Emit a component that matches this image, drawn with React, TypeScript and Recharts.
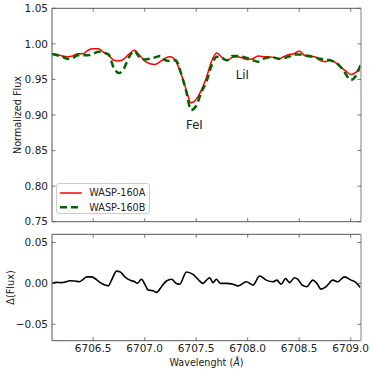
import { LineChart, Line, XAxis, YAxis, Legend, ReferenceDot, Label } from 'recharts';

// wavelength grid (Å) for the two spectra
const wavelength = [
  6706.1, 6706.15, 6706.2, 6706.25, 6706.3, 6706.35, 6706.4, 6706.45, 6706.5, 6706.55,
  6706.6, 6706.65, 6706.7, 6706.75, 6706.8, 6706.85, 6706.9, 6706.95, 6707.0, 6707.05,
  6707.1, 6707.15, 6707.2, 6707.25, 6707.3, 6707.35, 6707.4, 6707.45, 6707.5, 6707.55,
  6707.6, 6707.65, 6707.7, 6707.75, 6707.8, 6707.85, 6707.9, 6707.95, 6708.0, 6708.05,
  6708.1, 6708.15, 6708.2, 6708.25, 6708.3, 6708.35, 6708.4, 6708.45, 6708.5, 6708.55,
  6708.6, 6708.65, 6708.7, 6708.75, 6708.8, 6708.85, 6708.9, 6708.95, 6709.0, 6709.05,
  6709.1,
];

const fluxA = [
  0.986, 0.985, 0.983, 0.982, 0.983, 0.986, 0.986, 0.991, 0.993, 0.993,
  0.988, 0.984, 0.977, 0.976, 0.979, 0.986, 0.991, 0.984, 0.976, 0.972,
  0.971, 0.975, 0.98, 0.982, 0.976, 0.959, 0.937, 0.917, 0.922, 0.935,
  0.953, 0.976, 0.987, 0.981, 0.977, 0.981, 0.982, 0.98, 0.978, 0.979,
  0.983, 0.982, 0.982, 0.981, 0.979, 0.982, 0.985, 0.986, 0.99, 0.984,
  0.982, 0.982, 0.977, 0.975, 0.977, 0.974, 0.968, 0.962, 0.957, 0.96,
  0.97,
];

const fluxB = [
  0.986, 0.984, 0.982, 0.979, 0.98, 0.984, 0.984, 0.984, 0.986, 0.989,
  0.988, 0.985, 0.966, 0.959, 0.966, 0.982, 0.99, 0.981, 0.978, 0.979,
  0.981, 0.983, 0.977, 0.976, 0.977, 0.96, 0.935, 0.907, 0.913, 0.932,
  0.947, 0.97, 0.982, 0.98, 0.977, 0.983, 0.983, 0.982, 0.98, 0.977,
  0.975, 0.979, 0.981, 0.981, 0.979, 0.98, 0.982, 0.985, 0.985, 0.984,
  0.983, 0.981, 0.979, 0.978, 0.977, 0.974, 0.968, 0.958, 0.949, 0.955,
  0.972,
];

// residuals A - B
const diffWavelength = [
  6706.1, 6706.146, 6706.194, 6706.226, 6706.274, 6706.323, 6706.365, 6706.403, 6706.436, 6706.485,
  6706.517, 6706.565, 6706.614, 6706.646, 6706.678, 6706.727, 6706.759, 6706.807, 6706.856, 6706.904,
  6706.927, 6706.969, 6707.001, 6707.033, 6707.082, 6707.115, 6707.163, 6707.211, 6707.26, 6707.308,
  6707.34, 6707.405, 6707.469, 6707.518, 6707.566, 6707.592, 6707.631, 6707.663, 6707.696, 6707.735,
  6707.793, 6707.857, 6707.905, 6707.987, 6708.051, 6708.116, 6708.18, 6708.244, 6708.283, 6708.326,
  6708.367, 6708.406, 6708.455, 6708.487, 6708.529, 6708.574, 6708.632, 6708.671, 6708.713, 6708.762,
  6708.826, 6708.874, 6708.939, 6709.004, 6709.052, 6709.094,
];

const diffFlux = [
  0.0, 0.0013, 0.001, 0.0017, 0.0033, 0.003, 0.002, 0.005, 0.008, 0.008,
  0.006, 0.0013, -0.002, -0.003, 0.004, 0.015, 0.0143, 0.008, 0.004, 0.002,
  0.0, 0.005, -0.001, -0.008, -0.009, -0.011, -0.004, 0.003, 0.005, 0.0,
  -0.001, 0.014, 0.011, 0.005, 0.0, 0.003, 0.007, 0.001, 0.005, 0.0,
  0.0, -0.001, -0.003, 0.002, -0.002, 0.009, 0.004, 0.002, 0.004, -0.001,
  0.006, 0.001, 0.007, 0.005, -0.002, -0.004, 0.004, 0.0, -0.007, -0.004,
  0.004, 0.002, 0.008, 0.004, 0.001, -0.005,
];

const xTicks = [6706.5, 6707.0, 6707.5, 6708.0, 6708.5, 6709.0];
const fluxTicks = [0.75, 0.8, 0.85, 0.9, 0.95, 1.0, 1.05];
const diffTicks = [-0.05, 0, 0.05];

const spectrum = wavelength.map((w, i) => ({ w, a: fluxA[i], b: fluxB[i] }));
const residuals = diffWavelength.map((w, i) => ({ w, d: diffFlux[i] }));

const FONT = '"DejaVu Sans", Verdana, sans-serif';
const SPINE = '#555';
const SPINE_R = '#aaa';
const TICK = 3.5;
const THIN = 0.01; // axes of zero size are not drawn at all
const X_DOMAIN: [number, number] = [6706.1, 6709.1];

const fmtY = (v: number) => (v < 0 ? '\u2212' + Math.abs(v).toFixed(2) : v.toFixed(2));

const bottomTick = (showLabel: boolean) => (p: any) => (
  <g>
    <line x1={p.x} x2={p.x} y1={p.y} y2={p.y - TICK} stroke={SPINE} strokeWidth={0.8} />
    {showLabel && (
      <text x={p.x} y={p.y + 11.5} textAnchor="middle" fontSize={10.5} fontFamily={FONT} fill="#222">
        {Number(p.payload.value).toFixed(1)}
      </text>
    )}
  </g>
);

const topTick = (p: any) => (
  <line x1={p.x} x2={p.x} y1={p.y} y2={p.y + TICK} stroke={SPINE} strokeWidth={0.8} />
);

const leftTick = (p: any) => (
  <g>
    <line x1={p.x} x2={p.x + TICK} y1={p.y} y2={p.y} stroke={SPINE} strokeWidth={0.8} />
    <text x={p.x - 4} y={p.y + 3.8} textAnchor="end" fontSize={10.5} fontFamily={FONT} fill="#222">
      {fmtY(Number(p.payload.value))}
    </text>
  </g>
);

const rightTick = (p: any) => (
  <line x1={p.x} x2={p.x - TICK} y1={p.y} y2={p.y} stroke={SPINE} strokeWidth={0.8} />
);

const yLabel = (text: string, cx: number) => (props: any) => {
  const vb = props.viewBox || {};
  const cy = vb.y + vb.height / 2;
  return (
    <text
      transform={`translate(${cx}, ${cy}) rotate(-90)`}
      textAnchor="middle"
      dominantBaseline="central"
      fontSize={9.7}
      fontFamily={FONT}
      fill="#222"
    >
      {text}
    </text>
  );
};

function renderLegend(props: any) {
  const items = (props.payload || []).filter((e: any) => e.type !== 'none');
  return (
    <div
      style={{
        width: 94,
        height: 31,
        boxSizing: 'border-box',
        border: '1px solid #ccc',
        borderRadius: 3,
        background: 'rgba(255,255,255,0.8)',
      }}
    >
      <svg width={92} height={29}>
        {items.map((entry: any, i: number) => {
          const y = 9 + i * 14.3;
          const dashed = entry.payload && entry.payload.strokeDasharray;
          return (
            <g key={i}>
              <line
                x1={3}
                x2={24.7}
                y1={y}
                y2={y}
                stroke={entry.color}
                strokeWidth={dashed ? 2.5 : 1.5}
                strokeDasharray={dashed || undefined}
              />
              <text x={32.3} y={y + 3.4} fontSize={9.7} fontFamily={FONT} fill="#222">
                {entry.value}
              </text>
            </g>
          );
        })}
      </svg>
    </div>
  );
}

// invisible series so the top/right frame axes have something bound to them
const frameLine = (key: string) => (
  <Line
    xAxisId="t"
    yAxisId="r"
    dataKey={key}
    stroke="none"
    dot={false}
    activeDot={false}
    legendType="none"
    isAnimationActive={false}
  />
);

export default function App() {
  return (
    <div style={{ position: 'absolute', left: 0, top: 0, width: 374, height: 373, background: '#fff' }}>
      <div style={{ position: 'absolute', left: 0, top: 0 }}>
        <LineChart width={374} height={230} data={spectrum} margin={{ top: 8.3, right: 13, bottom: 8.3, left: 0 }}>
          <XAxis
            xAxisId="b"
            dataKey="w"
            type="number"
            domain={X_DOMAIN}
            ticks={xTicks}
            allowDataOverflow
            interval={0}
            height={THIN}
            tickSize={0}
            tickMargin={0}
            tickLine={false}
            axisLine={{ stroke: SPINE }}
            tick={bottomTick(false)}
          />
          <XAxis
            xAxisId="t"
            dataKey="w"
            orientation="top"
            type="number"
            domain={X_DOMAIN}
            ticks={xTicks}
            allowDataOverflow
            interval={0}
            height={THIN}
            tickSize={0}
            tickMargin={0}
            tickLine={false}
            axisLine={{ stroke: SPINE }}
            tick={topTick}
          />
          <YAxis
            yAxisId="l"
            type="number"
            domain={[0.75, 1.05]}
            ticks={fluxTicks}
            allowDataOverflow
            interval={0}
            width={52}
            tickSize={0}
            tickMargin={0}
            tickLine={false}
            axisLine={{ stroke: SPINE }}
            tick={leftTick}
          >
            <Label content={yLabel('Normalized Flux', 17.5)} />
          </YAxis>
          <YAxis
            yAxisId="r"
            orientation="right"
            type="number"
            domain={[0.75, 1.05]}
            ticks={fluxTicks}
            allowDataOverflow
            interval={0}
            width={THIN}
            tickSize={0}
            tickMargin={0}
            tickLine={false}
            axisLine={{ stroke: SPINE_R, strokeWidth: 1.5 }}
            tick={rightTick}
          />
          {frameLine('a')}
          <Line
            xAxisId="b"
            yAxisId="l"
            type="monotone"
            dataKey="a"
            name="WASP-160A"
            stroke="#ff0000"
            strokeWidth={1.5}
            dot={false}
            isAnimationActive={false}
          />
          <Line
            xAxisId="b"
            yAxisId="l"
            type="monotone"
            dataKey="b"
            name="WASP-160B"
            stroke="#006400"
            strokeWidth={2.5}
            strokeDasharray="7 4"
            dot={false}
            isAnimationActive={false}
          />
          <ReferenceDot
            xAxisId="b"
            yAxisId="l"
            x={6707.483}
            y={0.886}
            r={1}
            fill="none"
            stroke="none"
            label={{ value: 'FeI', position: 'center', fontSize: 11.7, fontFamily: FONT, fill: '#222' }}
          />
          <ReferenceDot
            xAxisId="b"
            yAxisId="l"
            x={6707.948}
            y={0.956}
            r={1}
            fill="none"
            stroke="none"
            label={{ value: 'LiI', position: 'center', fontSize: 11.7, fontFamily: FONT, fill: '#222' }}
          />
          <Legend
            layout="horizontal"
            verticalAlign="middle"
            align="center"
            wrapperStyle={{ left: 56, top: 183, width: 94, height: 31 }}
            content={renderLegend}
          />
        </LineChart>
      </div>
      <div style={{ position: 'absolute', left: 0, top: 230 }}>
        <LineChart width={374} height={143} data={residuals} margin={{ top: 4.3, right: 13, bottom: 0, left: 0 }}>
          <XAxis
            xAxisId="b"
            dataKey="w"
            type="number"
            domain={X_DOMAIN}
            ticks={xTicks}
            allowDataOverflow
            interval={0}
            height={32.3}
            tickSize={0}
            tickMargin={0}
            tickLine={false}
            axisLine={{ stroke: SPINE }}
            tick={bottomTick(true)}
          >
            <Label
              content={(props: any) => {
                const vb = props.viewBox || {};
                return (
                  <text
                    x={vb.x + vb.width / 2}
                    y={vb.y + 21.5}
                    textAnchor="middle"
                    dominantBaseline="central"
                    fontSize={9.6}
                    fontFamily={FONT}
                    fill="#222"
                  >
                    Wavelenght (<tspan fontStyle="italic">Å</tspan>)
                  </text>
                );
              }}
            />
          </XAxis>
          <XAxis
            xAxisId="t"
            dataKey="w"
            orientation="top"
            type="number"
            domain={X_DOMAIN}
            ticks={xTicks}
            allowDataOverflow
            interval={0}
            height={THIN}
            tickSize={0}
            tickMargin={0}
            tickLine={false}
            axisLine={{ stroke: SPINE }}
            tick={topTick}
          />
          <YAxis
            yAxisId="l"
            type="number"
            domain={[-0.07, 0.06]}
            ticks={diffTicks}
            allowDataOverflow
            interval={0}
            width={52}
            tickSize={0}
            tickMargin={0}
            tickLine={false}
            axisLine={{ stroke: SPINE }}
            tick={leftTick}
          >
            <Label content={yLabel('\u0394(Flux)', 10.7)} />
          </YAxis>
          <YAxis
            yAxisId="r"
            orientation="right"
            type="number"
            domain={[-0.07, 0.06]}
            ticks={diffTicks}
            allowDataOverflow
            interval={0}
            width={THIN}
            tickSize={0}
            tickMargin={0}
            tickLine={false}
            axisLine={{ stroke: SPINE_R, strokeWidth: 1.5 }}
            tick={rightTick}
          />
          {frameLine('d')}
          <Line
            xAxisId="b"
            yAxisId="l"
            type="monotone"
            dataKey="d"
            stroke="#000"
            strokeWidth={1.6}
            dot={false}
            isAnimationActive={false}
          />
        </LineChart>
      </div>
    </div>
  );
}
